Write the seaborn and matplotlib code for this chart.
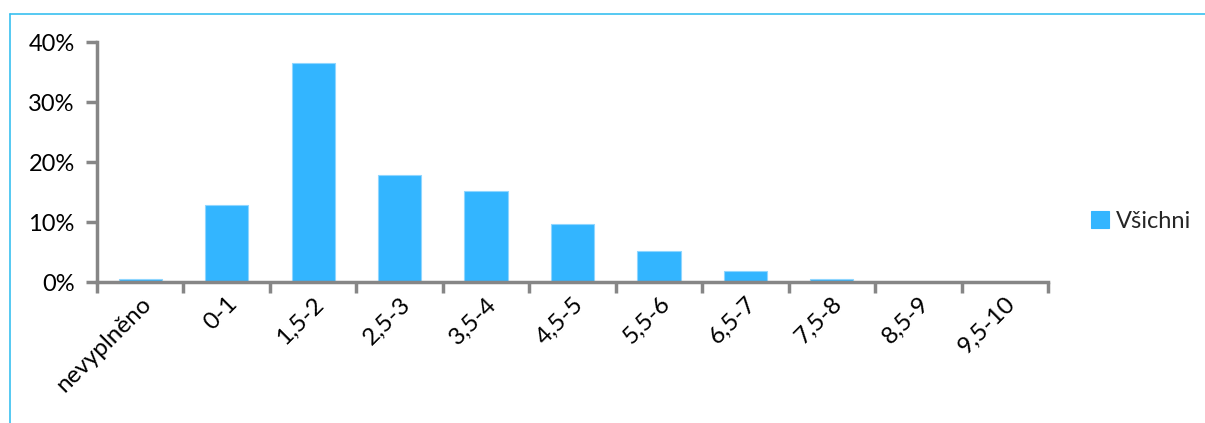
import matplotlib
matplotlib.use("Agg")
import matplotlib.pyplot as plt
import matplotlib.ticker as mticker
from matplotlib.lines import Line2D
import seaborn as sns
import pandas as pd
import numpy as np

categories = ["nevyplněno", "0-1", "1,5-2", "2,5-3", "3,5-4", "4,5-5",
              "5,5-6", "6,5-7", "7,5-8", "8,5-9", "9,5-10"]
values = [0.005, 0.128, 0.365, 0.179, 0.152, 0.096, 0.052, 0.019, 0.005, 0.0, 0.0]
series_name = "Všichni"
y_ticks = [0.0, 0.1, 0.2, 0.3, 0.4]

sns.set_style("white")
plt.rcParams['font.family'] = ['Lato', 'DejaVu Sans']

df = pd.DataFrame({"cat": categories, "val": values, "series": series_name})

fig = plt.figure(figsize=(12.05, 4.23), dpi=100)
ax = fig.add_axes([0.0805, 0.3333, 0.7892, 0.5674])

bar_color = "#33B5FF"
sns.barplot(data=df, x="cat", y="val", hue="series", palette=[bar_color],
            saturation=1, width=0.5, ax=ax, edgecolor="#8fd6ff", linewidth=0.8, legend=True)

ax.set_xlim(-0.5, len(categories) - 0.5)
ax.set_ylim(0, 0.4)
ax.set_yticks(y_ticks)
ax.yaxis.set_major_formatter(mticker.FuncFormatter(lambda v, p: f"{v*100:.0f}%"))
ax.set_xlabel("")
ax.set_ylabel("")

for s in ["top", "right"]:
    ax.spines[s].set_visible(False)
for s in ["left", "bottom"]:
    ax.spines[s].set_color("#868686")
    ax.spines[s].set_linewidth(2.5)

fs = 17
ax.set_xticks(range(len(categories)))
ax.set_xticklabels(categories, rotation=45, ha="right", va="top", rotation_mode="anchor")
ax.tick_params(axis="x", which="major", length=0, pad=8, labelsize=fs + 0.5, labelcolor="black")
ax.set_xticks(np.arange(-0.5, len(categories), 1.0), minor=True)
ax.tick_params(axis="x", which="minor", length=8, width=2.5, color="#868686",
               direction="out", bottom=True)
ax.tick_params(axis="y", which="major", length=8, width=2.5, color="#868686",
               direction="out", labelsize=fs, labelcolor="black", pad=8, left=True)

leg = ax.legend(loc="center left", frameon=False, fontsize=fs, handlelength=0.75,
                handleheight=0.75, handletextpad=0.3, borderaxespad=0, borderpad=0)
for h in leg.legend_handles:
    h.set_edgecolor(bar_color)
leg.set_bbox_to_anchor((1091 / 1205, 1 - 221 / 423), transform=fig.transFigure)

# chart area frame (top and left edges visible)
frame_col = "#38C0F0"
fig.add_artist(Line2D([10 / 1205, 1.0], [1 - 14 / 423, 1 - 14 / 423],
                      transform=fig.transFigure, color=frame_col, lw=1.2))
fig.add_artist(Line2D([10 / 1205, 10 / 1205], [1 - 14 / 423, 0.0],
                      transform=fig.transFigure, color=frame_col, lw=1.2))

fig.savefig("out.png", dpi=100)
